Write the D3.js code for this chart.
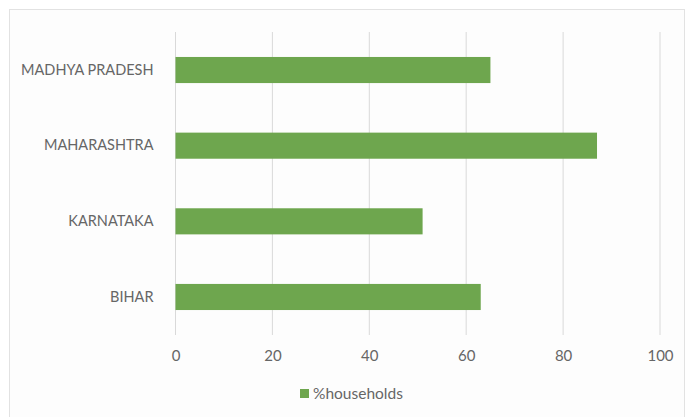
<!DOCTYPE html>
<html>
<head>
<meta charset="utf-8">
<script src="https://cdn.jsdelivr.net/npm/d3@7"></script>
<style>
  html, body { margin: 0; padding: 0; background: #ffffff; }
  svg { display: block; }
  text { font-family: Lato, "Open Sans", sans-serif; fill: #666666; }
</style>
</head>
<body>
<svg id="chart" width="691" height="417"></svg>
<script>
// Share of households by state
const states = ["MADHYA PRADESH", "MAHARASHTRA", "KARNATAKA", "BIHAR"];
const households = [65, 87, 51, 63];
const xTicks = [0, 20, 40, 60, 80, 100];
const seriesName = "%households";

const barColor = "#6ea64e";
const gridColor = "#d9d9d9";

const svg = d3.select("#chart");

// chart frame
svg.append("rect")
  .attr("x", 9.5).attr("y", 9.5)
  .attr("width", 675).attr("height", 412)
  .attr("fill", "#fdfdfd")
  .attr("stroke", "#e2e2e2");

const plot = { left: 175.5, right: 660, top: 32, bottom: 335 };

const x = d3.scaleLinear().domain([0, 100]).range([plot.left, plot.right]);
const y = d3.scaleBand().domain(states).range([plot.top, plot.bottom])
  .paddingInner(0.655).paddingOuter(0.33);

// vertical gridlines
svg.append("g")
  .selectAll("line")
  .data(xTicks)
  .join("line")
  .attr("x1", d => x(d)).attr("x2", d => x(d))
  .attr("y1", plot.top).attr("y2", plot.bottom)
  .attr("stroke", gridColor).attr("stroke-width", 1);

// bars
svg.append("g")
  .selectAll("rect")
  .data(states)
  .join("rect")
  .attr("x", x(0))
  .attr("y", d => y(d))
  .attr("width", (d, i) => x(households[i]) - x(0))
  .attr("height", y.bandwidth())
  .attr("fill", barColor);

// x axis labels
const xAxis = d3.axisBottom(x).tickValues(xTicks).tickSize(0).tickPadding(15);
const gx = svg.append("g")
  .attr("transform", `translate(0,${plot.bottom})`)
  .call(xAxis);
gx.select(".domain").remove();
gx.selectAll("text")
  .style("font-family", "Lato, 'Open Sans', sans-serif")
  .style("font-size", "15px")
  .attr("fill", "#666666");

// category labels
const yAxis = d3.axisLeft(y).tickSize(0).tickPadding(22);
const gy = svg.append("g")
  .attr("transform", `translate(${plot.left},0)`)
  .call(yAxis);
gy.select(".domain").remove();
gy.selectAll("text")
  .style("font-family", "Lato, 'Open Sans', sans-serif")
  .style("font-size", "14.5px")
  .attr("fill", "#666666");

// legend
const legend = svg.append("g").attr("transform", "translate(300,389)");
legend.append("rect")
  .attr("width", 9).attr("height", 9)
  .attr("fill", barColor);
legend.append("text")
  .attr("x", 13).attr("y", 4.5)
  .attr("dy", "0.35em")
  .style("font-size", "15.5px")
  .text(seriesName);
</script>
</body>
</html>
